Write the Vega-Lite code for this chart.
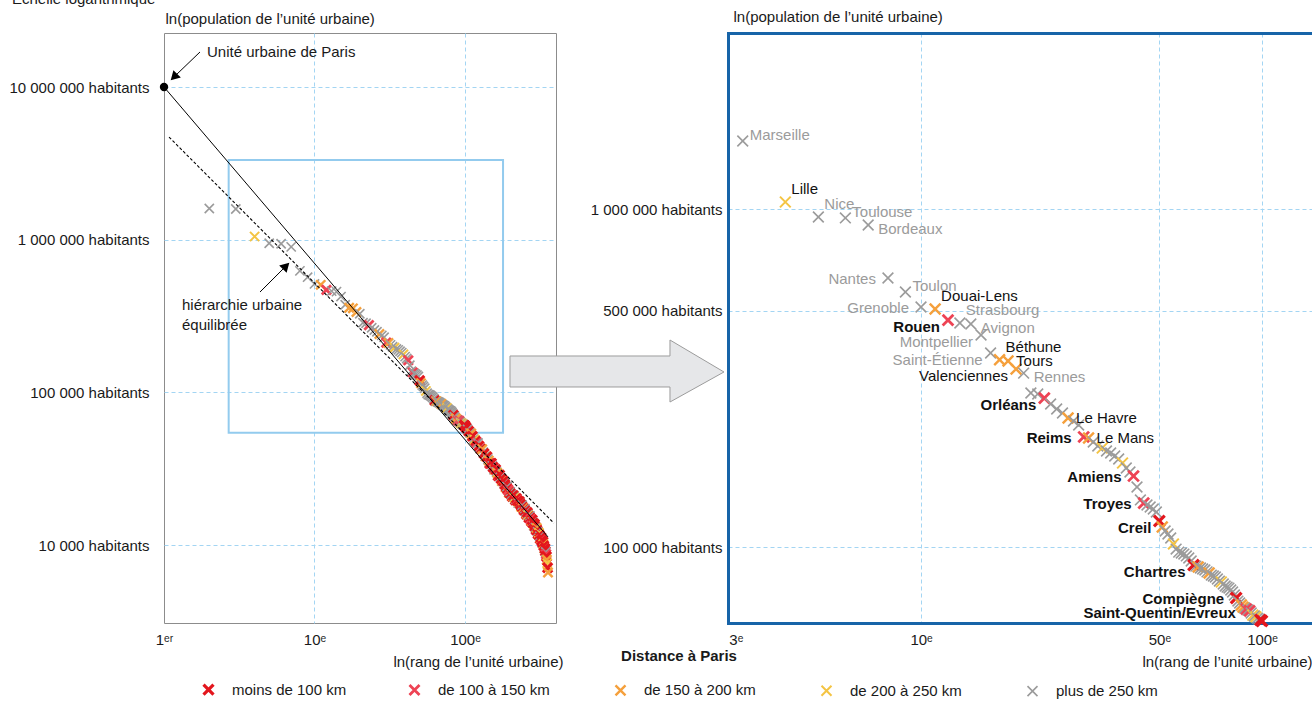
{
"$schema": "https://vega.github.io/schema/vega-lite/v6.json",
"background": "white",
"padding": {"left": 8, "top": -9, "right": 0, "bottom": 0},
"bounds": "flush",
"spacing": 172,
"config": {
  "font": "Liberation Sans",
  "view": {"stroke": null},
  "axis": {"labelFont": "Liberation Sans", "titleFont": "Liberation Sans", "labelFontSize": 15, "titleFontSize": 15, "titleFontWeight": "normal", "labelColor": "#1a1a1a", "titleColor": "#1a1a1a", "ticks": false, "domain": false, "gridColor": "#a3d5f3", "gridDash": [4, 3], "gridWidth": 1, "labelFlush": false, "labelOverlap": false}
},
"datasets": {
  "uu": [
    {"r":2,"p":1600000,"d":5},
    {"r":3,"p":1589000,"d":5,"n":"Marseille"},
    {"r":4,"p":1049000,"d":4,"n":"Lille"},
    {"r":5,"p":947000,"d":5,"n":"Nice"},
    {"r":6,"p":941000,"d":5,"n":"Toulouse"},
    {"r":7,"p":897000,"d":5,"n":"Bordeaux"},
    {"r":8,"p":625000,"d":5,"n":"Nantes"},
    {"r":9,"p":568000,"d":5,"n":"Toulon"},
    {"r":10,"p":513000,"d":5,"n":"Grenoble"},
    {"r":11,"p":506000,"d":3,"n":"Douai-Lens"},
    {"r":12,"p":469000,"d":2,"n":"Rouen"},
    {"r":13,"p":460000,"d":5,"n":"Strasbourg"},
    {"r":14,"p":457000,"d":5,"n":"Avignon"},
    {"r":15,"p":424000,"d":5,"n":"Montpellier"},
    {"r":16,"p":375000,"d":5,"n":"Saint-Étienne"},
    {"r":17,"p":358000,"d":3,"n":"Béthune"},
    {"r":18,"p":355000,"d":3,"n":"Tours"},
    {"r":19,"p":336000,"d":3,"n":"Valenciennes"},
    {"r":20,"p":327000,"d":5,"n":"Rennes"},
    {"r":21,"p":285500,"d":5},
    {"r":22,"p":283600,"d":5},
    {"r":23,"p":275900,"d":2,"n":"Orléans"},
    {"r":24,"p":264900,"d":5},
    {"r":25,"p":256100,"d":5},
    {"r":26,"p":249200,"d":5},
    {"r":27,"p":240800,"d":3,"n":"Le Havre"},
    {"r":28,"p":235900,"d":5},
    {"r":29,"p":229600,"d":5},
    {"r":30,"p":211600,"d":2,"n":"Reims"},
    {"r":31,"p":210200,"d":3,"n":"Le Mans"},
    {"r":32,"p":204500,"d":5},
    {"r":33,"p":199000,"d":5},
    {"r":34,"p":196300,"d":4},
    {"r":35,"p":192300,"d":5},
    {"r":36,"p":189700,"d":5},
    {"r":37,"p":185900,"d":5},
    {"r":38,"p":182100,"d":5},
    {"r":39,"p":177200,"d":4},
    {"r":40,"p":171300,"d":5},
    {"r":41,"p":166700,"d":5},
    {"r":42,"p":162200,"d":2,"n":"Amiens"},
    {"r":43,"p":150500,"d":5},
    {"r":44,"p":137800,"d":5},
    {"r":45,"p":134900,"d":2,"n":"Troyes"},
    {"r":46,"p":133100,"d":5},
    {"r":47,"p":131300,"d":5},
    {"r":48,"p":129600,"d":5},
    {"r":49,"p":126900,"d":5},
    {"r":50,"p":119400,"d":1,"n":"Creil"},
    {"r":51,"p":114600,"d":3},
    {"r":52,"p":111500,"d":5},
    {"r":53,"p":109300,"d":5},
    {"r":54,"p":106300,"d":5},
    {"r":55,"p":102100,"d":4},
    {"r":56,"p":98600,"d":5},
    {"r":57,"p":96600,"d":5},
    {"r":58,"p":96000,"d":5},
    {"r":59,"p":95300,"d":5},
    {"r":60,"p":94100,"d":5},
    {"r":61,"p":92800,"d":5},
    {"r":62,"p":90900,"d":5},
    {"r":63,"p":88400,"d":1,"n":"Chartres"},
    {"r":64,"p":87800,"d":5},
    {"r":65,"p":87300,"d":3},
    {"r":66,"p":86700,"d":5},
    {"r":67,"p":86100,"d":5},
    {"r":68,"p":85500,"d":5},
    {"r":69,"p":84400,"d":5},
    {"r":70,"p":83800,"d":3},
    {"r":71,"p":82600,"d":5},
    {"r":72,"p":82100,"d":5},
    {"r":73,"p":81500,"d":5},
    {"r":74,"p":80400,"d":5},
    {"r":75,"p":79300,"d":5},
    {"r":76,"p":78800,"d":4},
    {"r":77,"p":77700,"d":5},
    {"r":78,"p":76700,"d":5},
    {"r":79,"p":76100,"d":5},
    {"r":80,"p":75600,"d":5},
    {"r":81,"p":74600,"d":5},
    {"r":82,"p":73600,"d":5},
    {"r":83,"p":72100,"d":5},
    {"r":84,"p":70700,"d":1,"n":"Compiègne"},
    {"r":85,"p":69200,"d":5},
    {"r":86,"p":68300,"d":5},
    {"r":87,"p":67400,"d":3},
    {"r":88,"p":66400,"d":3},
    {"r":89,"p":66000,"d":5},
    {"r":90,"p":65500,"d":2},
    {"r":91,"p":65100,"d":5},
    {"r":92,"p":64700,"d":2},
    {"r":93,"p":63800,"d":5},
    {"r":94,"p":62900,"d":4},
    {"r":95,"p":62500,"d":5},
    {"r":96,"p":62100,"d":4},
    {"r":97,"p":61600,"d":5},
    {"r":98,"p":61200,"d":5},
    {"r":99,"p":60800,"d":1},
    {"r":100,"p":60400,"d":1,"n":"Saint-Quentin/Evreux"},
    {"r":102,"p":58700,"d":1},{"r":104,"p":57200,"d":5},{"r":106,"p":55600,"d":1},{"r":108,"p":54200,"d":5},{"r":110,"p":53800,"d":3},{"r":112,"p":51500,"d":1},{"r":114,"p":49400,"d":5},{"r":116,"p":49000,"d":4},
    {"r":118,"p":47900,"d":1},{"r":120,"p":46700,"d":2},{"r":122,"p":46600,"d":5},{"r":124,"p":44600,"d":1},{"r":126,"p":42800,"d":5},{"r":128,"p":42600,"d":1},{"r":130,"p":42400,"d":3},{"r":132,"p":40600,"d":5},
    {"r":134,"p":39700,"d":1},{"r":136,"p":38200,"d":5},{"r":138,"p":38000,"d":4},{"r":140,"p":37900,"d":1},{"r":142,"p":36500,"d":5},{"r":144,"p":35700,"d":3},{"r":146,"p":34200,"d":1},{"r":148,"p":34200,"d":2},
    {"r":150,"p":34300,"d":1},{"r":152,"p":32900,"d":5},{"r":154,"p":32300,"d":1},{"r":156,"p":31100,"d":5},{"r":158,"p":31100,"d":4},{"r":160,"p":31200,"d":1},{"r":162,"p":30100,"d":5},{"r":164,"p":29600,"d":3},
    {"r":166,"p":28400,"d":1},{"r":168,"p":28600,"d":2},{"r":170,"p":28700,"d":1},{"r":172,"p":27700,"d":5},{"r":174,"p":27200,"d":1},{"r":176,"p":26200,"d":3},{"r":178,"p":26200,"d":5},{"r":180,"p":26300,"d":1},
    {"r":182,"p":25300,"d":5},{"r":184,"p":24900,"d":1},{"r":186,"p":23900,"d":4},{"r":188,"p":24000,"d":1},{"r":190,"p":24100,"d":5},{"r":192,"p":23200,"d":1},{"r":194,"p":22900,"d":2},{"r":196,"p":22000,"d":3},
    {"r":198,"p":22100,"d":1},{"r":200,"p":22300,"d":5},{"r":202,"p":21600,"d":1},{"r":204,"p":21400,"d":5},{"r":206,"p":20800,"d":1},{"r":208,"p":20900,"d":3},{"r":210,"p":21100,"d":1},{"r":212,"p":20600,"d":5},
    {"r":214,"p":20400,"d":4},{"r":216,"p":19700,"d":1},{"r":218,"p":20000,"d":5},{"r":220,"p":20200,"d":1},{"r":222,"p":19600,"d":2},{"r":224,"p":19400,"d":1},{"r":226,"p":18800,"d":5},{"r":228,"p":19100,"d":3},
    {"r":230,"p":19300,"d":1},{"r":232,"p":18700,"d":5},{"r":234,"p":18500,"d":1},{"r":236,"p":17800,"d":4},{"r":238,"p":18000,"d":1},{"r":240,"p":18200,"d":5},{"r":242,"p":17600,"d":1},{"r":244,"p":17400,"d":3},
    {"r":246,"p":16900,"d":2},{"r":248,"p":17100,"d":1},{"r":250,"p":17300,"d":5},{"r":252,"p":16700,"d":1},{"r":254,"p":16500,"d":5},{"r":256,"p":15900,"d":1},{"r":258,"p":16100,"d":3},{"r":260,"p":16300,"d":1},
    {"r":262,"p":15800,"d":5},{"r":264,"p":15600,"d":4},{"r":266,"p":15100,"d":1},{"r":268,"p":15300,"d":1},{"r":270,"p":15500,"d":5},{"r":272,"p":15000,"d":1},{"r":274,"p":14800,"d":2},{"r":276,"p":14300,"d":1},
    {"r":278,"p":14400,"d":3},{"r":280,"p":14600,"d":1},{"r":282,"p":14100,"d":5},{"r":284,"p":13900,"d":1},{"r":286,"p":13400,"d":5},{"r":288,"p":13600,"d":4},{"r":290,"p":13700,"d":1},{"r":292,"p":13200,"d":1},
    {"r":294,"p":13000,"d":5},{"r":296,"p":12600,"d":2},{"r":298,"p":12700,"d":1},{"r":300,"p":12900,"d":3},{"r":302,"p":12400,"d":1},{"r":304,"p":12200,"d":5},{"r":306,"p":11800,"d":1},{"r":308,"p":11900,"d":1},
    {"r":310,"p":12000,"d":4},{"r":312,"p":11600,"d":1},{"r":314,"p":11400,"d":5},{"r":316,"p":11000,"d":1},{"r":318,"p":11100,"d":3},{"r":320,"p":11200,"d":1},{"r":322,"p":10800,"d":2},{"r":324,"p":10700,"d":1},
    {"r":326,"p":10300,"d":5},{"r":328,"p":10400,"d":1},{"r":330,"p":10500,"d":1},{"r":332,"p":10100,"d":4},{"r":334,"p":9900,"d":1},{"r":336,"p":9500,"d":5},{"r":338,"p":9500,"d":3},{"r":340,"p":9500,"d":1},
    {"r":342,"p":9100,"d":1},{"r":344,"p":9000,"d":5},{"r":346,"p":8700,"d":2},{"r":348,"p":8400,"d":1},{"r":350,"p":8000,"d":3},{"r":352,"p":7600,"d":4},{"r":354,"p":7100,"d":1},{"r":356,"p":6600,"d":3}
  ],
  "paris": [{"r":1,"p":10000000}],
  "box": [{"r":2.69,"r2":179,"p":3326000,"p2":54400}],
  "solid": [{"r":1,"p":10000000},{"r":356,"p":11300}],
  "dashed": [{"r":1.08,"p":4700000},{"r":390,"p":13900}],
  "pointers": [{"r":1.735,"p":16960000,"r2":1.183,"p2":11800000},{"r":4.345,"p":454000,"r2":6.37,"p2":662000}],
  "head1": [{"r":1.183,"p":11800000}],
  "head2": [{"r":6.37,"p":662000}],
  "notes": [
    {"r":0.0977,"p":37980000,"t":"Échelle logarithmique"},
    {"r":1.931,"p":16960000,"t":"Unité urbaine de Paris"},
    {"r":1.317,"p":373000,"t":"hiérarchie urbaine"},
    {"r":1.317,"p":276000,"t":"équilibrée"}
  ],
  "bigarrow": [
    {"o":0,"r":199.1,"p":173000},{"o":1,"r":2302,"p":173000},{"o":2,"r":2302,"p":220200},{"o":3,"r":5260,"p":135900},
    {"o":4,"r":2302,"p":86400},{"o":5,"r":2302,"p":108400},{"o":6,"r":199.1,"p":108400},{"o":7,"r":199.1,"p":173000}
  ]
},
"hconcat": [
  {
    "width": 392,
    "height": 590,
    "view": {"stroke": "#8c8c8c", "strokeWidth": 1},
    "encoding": {
      "x": {"field": "r", "type": "quantitative", "scale": {"type": "log", "domain": [1, 402.5], "nice": false}, "axis": null},
      "y": {"field": "p", "type": "quantitative", "scale": {"type": "log", "domain": [3084, 22580000], "nice": false}, "axis": null}
    },
    "layer": [
      {"data": {"name": "box"}, "mark": {"type": "rect", "fill": "transparent", "stroke": "#93cbee", "strokeWidth": 2}, "encoding": {"x2": {"field": "r2"}, "y2": {"field": "p2"}}},
      {
        "data": {"name": "uu"},
        "mark": {"type": "point", "shape": "M-1,-1L1,1M-1,1L1,-1", "filled": false, "opacity": 1, "size": 85},
        "encoding": {
          "x": {"field": "r", "type": "quantitative", "scale": {"type": "log", "domain": [1, 402.5], "nice": false},
                "axis": {"values": [1, 10, 100], "labelExpr": "datum.value == 1 ? '1ᵉʳ' : datum.value + 'ᵉ'", "grid": true, "gridOpacity": {"condition": {"test": "datum.value < 2", "value": 0}, "value": 1}, "labelPadding": 9, "title": "ln(rang de l’unité urbaine)", "titleX": 399, "titleY": 38, "titleAlign": "right", "titleBaseline": "middle"}},
          "y": {"field": "p", "type": "quantitative", "scale": {"type": "log", "domain": [3084, 22580000], "nice": false},
                "axis": {"values": [10000, 100000, 1000000, 10000000], "labelExpr": "datum.value > 5000000 ? '10 000 000 habitants' : datum.value > 500000 ? '1 000 000 habitants' : datum.value > 50000 ? '100 000 habitants' : '10 000 habitants'", "grid": true, "labelPadding": 15, "title": "ln(population de l’unité urbaine)", "titleAngle": 0, "titleAlign": "left", "titleBaseline": "middle", "titleX": 1, "titleY": -15}},
          "color": {"field": "d", "type": "nominal", "scale": {"domain": [1, 2, 3, 4, 5], "range": ["#e3161d", "#ee4354", "#f5a03c", "#f4c443", "#9b9b9b"]},
                    "legend": {"orient": "none", "legendX": 37, "legendY": 616, "direction": "horizontal", "columns": 5, "title": "Distance à Paris", "titleFontWeight": "bold", "titleFontSize": 15, "titleAnchor": "middle", "titlePadding": 18, "titleColor": "#1a1a1a", "labelFontSize": 15, "labelColor": "#1a1a1a", "labelOffset": 16, "columnPadding": 56, "gridAlign": "all", "symbolType": "M-1,-1L1,1M-1,1L1,-1", "symbolSize": 100, "symbolStrokeWidth": 1.6, "padding": 0,
                               "labelExpr": "datum.value == 1 ? 'moins de 100 km' : datum.value == 2 ? 'de 100 à 150 km' : datum.value == 3 ? 'de 150 à 200 km' : datum.value == 4 ? 'de 200 à 250 km' : 'plus de 250 km'",
                               "encode": {"symbols": {"update": {"strokeWidth": {"signal": "datum.value == 1 ? 3.2 : 1.6"}}}}}},
          "strokeWidth": {"field": "d", "type": "ordinal", "scale": {"domain": [1, 2, 3, 4, 5], "range": [3.2, 1.6, 1.6, 1.6, 1.6]}, "legend": null}
        }
      },
      {"data": {"name": "solid"}, "mark": {"type": "line", "color": "#000000", "strokeWidth": 1}},
      {"data": {"name": "dashed"}, "mark": {"type": "line", "color": "#000000", "strokeWidth": 1.1, "strokeDash": [3, 2]}},
      {"data": {"name": "paris"}, "mark": {"type": "circle", "color": "#000000", "size": 70, "opacity": 1}},
      {"data": {"name": "pointers"}, "mark": {"type": "rule", "color": "#000000", "strokeWidth": 1}, "encoding": {"x2": {"field": "r2"}, "y2": {"field": "p2"}}},
      {"data": {"name": "head1"}, "mark": {"type": "point", "shape": "triangle", "filled": true, "color": "#000000", "size": 110, "angle": 225, "opacity": 1}},
      {"data": {"name": "head2"}, "mark": {"type": "point", "shape": "triangle", "filled": true, "color": "#000000", "size": 110, "angle": 45, "opacity": 1}},
      {"data": {"name": "notes"}, "mark": {"type": "text", "align": "left", "baseline": "middle", "fontSize": 15, "color": "#1a1a1a"}, "encoding": {"text": {"field": "t"}}},
      {"data": {"name": "bigarrow"}, "mark": {"type": "line", "fill": "#e6e7e9", "stroke": "#9c9c9c", "strokeWidth": 1, "strokeJoin": "miter"}, "encoding": {"order": {"field": "o", "type": "quantitative"}}}
    ],
    "resolve": {"axis": {"x": "independent", "y": "independent"}}
  },
  {
    "width": 584,
    "height": 590,
    "data": {"name": "uu"},
    "transform": [{"filter": "datum.r >= 3 && datum.r <= 100"}],
    "encoding": {
      "x": {"field": "r", "type": "quantitative", "scale": {"type": "log", "domain": [2.716, 140.2], "nice": false}, "axis": null},
      "y": {"field": "p", "type": "quantitative", "scale": {"type": "log", "domain": [59590, 3317000], "nice": false}, "axis": null}
    },
    "layer": [
      {
        "mark": {"type": "point", "shape": "M-1,-1L1,1M-1,1L1,-1", "filled": false, "opacity": 1, "size": 115},
        "encoding": {
          "x": {"field": "r", "type": "quantitative", "scale": {"type": "log", "domain": [2.716, 140.2], "nice": false},
                "axis": {"values": [3, 10, 50, 100], "labelExpr": "datum.value + 'ᵉ'", "grid": true, "gridOpacity": {"condition": {"test": "datum.value < 5", "value": 0}, "value": 1}, "labelAlign": {"condition": {"test": "datum.value < 5", "value": "right"}, "value": "center"}, "labelPadding": 9, "domain": true, "domainColor": "#1764a8", "domainWidth": 3, "domainCap": "square", "title": "ln(rang de l’unité urbaine)", "titleX": 584, "titleY": 38, "titleAlign": "right", "titleBaseline": "middle"}},
          "y": {"field": "p", "type": "quantitative", "scale": {"type": "log", "domain": [59590, 3317000], "nice": false},
                "axis": {"values": [100000, 500000, 1000000], "labelExpr": "datum.value > 800000 ? '1 000 000 habitants' : datum.value > 300000 ? '500 000 habitants' : '100 000 habitants'", "grid": true, "labelPadding": 6, "domain": true, "domainColor": "#1764a8", "domainWidth": 3, "domainCap": "square", "title": "ln(population de l’unité urbaine)", "titleAngle": 0, "titleAlign": "left", "titleBaseline": "middle", "titleX": 5, "titleY": -17}},
          "color": {"field": "d", "type": "nominal", "scale": {"domain": [1, 2, 3, 4, 5], "range": ["#e3161d", "#ee4354", "#f5a03c", "#f4c443", "#9b9b9b"]},
                    "legend": {"orient": "none", "legendX": 37, "legendY": 616, "direction": "horizontal", "columns": 5, "title": "Distance à Paris", "titleFontWeight": "bold", "titleFontSize": 15, "titleAnchor": "middle", "titlePadding": 18, "titleColor": "#1a1a1a", "labelFontSize": 15, "labelColor": "#1a1a1a", "labelOffset": 16, "columnPadding": 56, "gridAlign": "all", "symbolType": "M-1,-1L1,1M-1,1L1,-1", "symbolSize": 100, "symbolStrokeWidth": 1.6, "padding": 0,
                               "labelExpr": "datum.value == 1 ? 'moins de 100 km' : datum.value == 2 ? 'de 100 à 150 km' : datum.value == 3 ? 'de 150 à 200 km' : datum.value == 4 ? 'de 200 à 250 km' : 'plus de 250 km'",
                               "encode": {"symbols": {"update": {"strokeWidth": {"signal": "datum.value == 1 ? 3.2 : 1.6"}}}}}},
          "strokeWidth": {"field": "d", "type": "ordinal", "scale": {"domain": [1, 2, 3, 4, 5], "range": [3.2, 1.6, 1.6, 1.6, 1.6]}, "legend": null}
        }
      },
      {
        "transform": [{"filter": {"field": "n", "oneOf": ["Marseille", "Toulouse", "Toulon"]}}],
        "mark": {"type": "text", "align": "left", "baseline": "middle", "dx": 7, "dy": -6, "fontSize": 15, "fontWeight": {"expr": "datum.d <= 2 ? 'bold' : 'normal'"}},
        "encoding": {
          "x": {"field": "r", "type": "quantitative", "scale": {"type": "log", "domain": [2.716, 140.2], "nice": false},
                "axis": {"orient": "top", "labels": false, "ticks": false, "grid": false, "title": null, "domain": true, "domainColor": "#1764a8", "domainWidth": 3, "domainCap": "square"}},
          "text": {"field": "n"},
          "color": {"condition": {"test": "datum.d == 5", "value": "#9b9b9b"}, "value": "#111111"}
        }
      },
      {
        "transform": [{"filter": {"field": "n", "oneOf": ["Lille", "Nice", "Douai-Lens", "Strasbourg", "Béthune"]}}],
        "mark": {"type": "text", "align": "left", "baseline": "middle", "dx": 6, "dy": -13, "fontSize": 15, "fontWeight": {"expr": "datum.d <= 2 ? 'bold' : 'normal'"}},
        "encoding": {"text": {"field": "n"}, "color": {"condition": {"test": "datum.d == 5", "value": "#9b9b9b"}, "value": "#111111"}}
      },
      {
        "transform": [{"filter": {"field": "n", "oneOf": ["Bordeaux", "Avignon", "Rennes"]}}],
        "mark": {"type": "text", "align": "left", "baseline": "middle", "dx": 10, "dy": 4, "fontSize": 15, "fontWeight": {"expr": "datum.d <= 2 ? 'bold' : 'normal'"}},
        "encoding": {"text": {"field": "n"}, "color": {"condition": {"test": "datum.d == 5", "value": "#9b9b9b"}, "value": "#111111"}}
      },
      {
        "transform": [{"filter": {"field": "n", "oneOf": ["Tours", "Le Havre", "Le Mans"]}}],
        "mark": {"type": "text", "align": "left", "baseline": "middle", "dx": 8, "dy": 0, "fontSize": 15, "fontWeight": {"expr": "datum.d <= 2 ? 'bold' : 'normal'"}},
        "encoding": {"text": {"field": "n"}, "color": {"condition": {"test": "datum.d == 5", "value": "#9b9b9b"}, "value": "#111111"}}
      },
      {
        "transform": [{"filter": {"field": "n", "oneOf": ["Nantes", "Grenoble", "Reims", "Amiens", "Compiègne", "Troyes"]}}],
        "mark": {"type": "text", "align": "right", "baseline": "middle", "dx": -12, "dy": 1, "fontSize": 15, "fontWeight": {"expr": "datum.d <= 2 ? 'bold' : 'normal'"}},
        "encoding": {"text": {"field": "n"}, "color": {"condition": {"test": "datum.d == 5", "value": "#9b9b9b"}, "value": "#111111"}}
      },
      {
        "transform": [{"filter": {"field": "n", "oneOf": ["Montpellier", "Saint-Étienne", "Valenciennes", "Rouen", "Orléans", "Creil", "Chartres"]}}],
        "mark": {"type": "text", "align": "right", "baseline": "middle", "dx": -8, "dy": 7, "fontSize": 15, "fontWeight": {"expr": "datum.d <= 2 ? 'bold' : 'normal'"}},
        "encoding": {"text": {"field": "n"}, "color": {"condition": {"test": "datum.d == 5", "value": "#9b9b9b"}, "value": "#111111"}}
      },
      {
        "transform": [{"filter": {"field": "n", "oneOf": ["Saint-Quentin/Evreux"]}}],
        "mark": {"type": "text", "align": "right", "baseline": "middle", "dx": -26, "dy": -8, "fontSize": 15, "fontWeight": "bold"},
        "encoding": {"text": {"field": "n"}, "color": {"value": "#111111"}}
      }
    ],
    "resolve": {"axis": {"x": "independent", "y": "independent"}}
  }
],
"resolve": {"scale": {"x": "independent", "y": "independent", "color": "shared", "strokeWidth": "shared"}, "legend": {"color": "shared"}}
}
